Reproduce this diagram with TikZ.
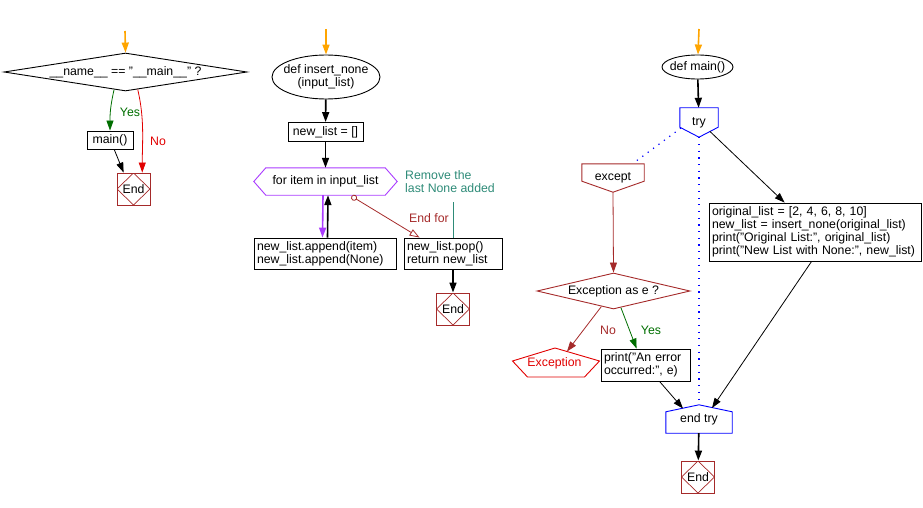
\documentclass[tikz,border=0pt]{standalone}
\usepackage{fontspec}
\setmainfont{Liberation Sans}
\usetikzlibrary{arrows.meta,calc,shapes.geometric}
\definecolor{flowred}{RGB}{165,42,42}
\definecolor{brightred}{RGB}{225,0,0}
\definecolor{flowgreen}{RGB}{0,110,0}
\definecolor{flowpurple}{RGB}{170,60,255}
\definecolor{flowblue}{RGB}{0,0,255}
\definecolor{floworange}{RGB}{255,165,0}
\definecolor{noteteal}{RGB}{46,139,120}
\def\tagdown[#1](#2)(#3){\draw[#1] (#2.north west) -- (#2.north east) -- ($(#2.south east)+(0,-#3)$) -- (#2.south) -- ($(#2.south west)+(0,-#3)$) -- cycle;}
\def\tagup[#1](#2)(#3){\draw[#1] (#2.south west) -- (#2.south east) -- ($(#2.north east)+(0,#3)$) -- (#2.north) -- ($(#2.north west)+(0,#3)$) -- cycle;}
\tikzset{
	txt/.style={font=\fontsize{12.3}{13}\selectfont, inner sep=0pt},
	box/.style={txt, draw, rectangle, line width=0.9pt, align=left},
	decision/.style={txt, draw, diamond, line width=0.9pt},
	endbox/.style={draw=flowred, rectangle, line width=0.9pt, minimum width=33pt, minimum height=32pt, txt,
		path picture={\draw[flowred, line width=0.7pt] (path picture bounding box.north) -- (path picture bounding box.east) -- (path picture bounding box.south) -- (path picture bounding box.west) -- cycle;}},
	tip/.style={-{Triangle[length=10pt,width=7pt]}},
	flowline/.style={tip, line width=1.6pt},
	thinline/.style={tip, line width=0.8pt},
	dotline/.style={flowblue, line width=1.2pt, dash pattern=on 1.2pt off 5.5pt},
	outline/.style={line width=0.9pt},
}

\begin{document}
\begin{tikzpicture}[x=1pt, y=-1pt]
	%%%%% START %%%%%
	\useasboundingbox (0,0) rectangle (923,508);
	
	% __name__ check
	\coordinate (start1) at (125,31);
	\node[decision, aspect=6.4, minimum width=243pt, minimum height=38pt] (dec1) at (125.5,72) {\_\_name\_\_ == "\_\_main\_\_" ?};
	\node[box, minimum width=46pt, minimum height=18pt] (mainc) at (110,140) {main()};
	\node[endbox] (end1) at (133.5,189) {End};
	
	\draw[flowline, floworange] (start1) -- (dec1.north);
	\draw[thinline, flowgreen] (dec1.237) .. controls +(-4,18) and +(0,-16) .. (mainc.north);
	\draw[thinline, brightred] (dec1.305) .. controls +(7,30) and +(0,-30) .. (end1.62);
	\draw[thinline] (mainc.-66) -- (end1.121);
	\node[txt, flowgreen] (yes1) at (130,112) {Yes};
	\node[txt, brightred] (no1) at (158,141) {No};
	
	% insert_none
	\coordinate (start2) at (326,29);
	\node[txt, draw, ellipse, line width=0.9pt, inner xsep=-7pt, minimum width=108pt, minimum height=44pt, align=center] (fn2) at (326,77) {def insert\_none\\(input\_list)};
	\node[box, minimum width=75pt, minimum height=19pt] (newl) at (325.5,132) {new\_list = []};
	\node[txt, minimum width=143pt, minimum height=27pt] (loop) at (325.5,181.5) {for item in input\_list};
	\draw[outline, flowpurple] (loop.west) -- ($(loop.north west)+(12,0)$) -- ($(loop.north east)+(-12,0)$) -- (loop.east) -- ($(loop.south east)+(-12,0)$) -- ($(loop.south west)+(12,0)$) -- cycle;
	\node[box, minimum width=142pt, minimum height=31pt, text width=136pt] (app) at (325,253.5) {new\_list.append(item)\\new\_list.append(None)};
	\node[box, minimum width=98pt, minimum height=31pt, text width=92pt] (pop) at (453,253.5) {new\_list.pop()\\return new\_list};
	\node[endbox] (end2) at (453,309) {End};
	\node[txt, noteteal, align=left] (note) at (450,182) {Remove the\\last None added};
	\node[txt, flowred] (endfor) at (429,218) {End for};
	
	\draw[flowline, floworange] (start2) -- (fn2);
	\draw[flowline] (fn2) -- (newl);
	\draw[flowline] (newl) -- (loop);
	\draw[flowline, flowpurple] ($(loop.south)+(-2.5,0)$) -- ($(app.north)+(-2.5,0)$);
	\draw[flowline] ($(app.north)+(2.5,0)$) -- ($(loop.south)+(2.5,0)$);
	\draw[flowred, line width=0.8pt, {Circle[open,length=6pt]}-{Triangle[open,length=10pt,width=7pt]}] ($(loop.south)+(26,1)$) -- ($(pop.north west)+(16,0)$);
	\draw[noteteal, line width=0.8pt, shorten <=9pt] (note.south -| pop.north) -- (pop.north);
	\draw[flowline] (pop) -- (end2);
	
	% main
	\coordinate (start3) at (699,29);
	\node[txt, draw, ellipse, line width=0.9pt, inner xsep=-4.5pt, minimum width=71pt, minimum height=24pt] (fn3) at (697.5,67) {def main()};
	\node[txt, minimum width=38pt, minimum height=29pt] (try) at (699,122.5) {try};
	\tagdown[outline, flowblue](try)(10)
	\node[txt, minimum width=62pt, minimum height=28pt] (except) at (613,178) {except};
	\tagdown[outline, flowred](except)(11)
	\node[box, minimum width=212pt, minimum height=58pt, text width=206pt] (big) at (815,232) {original\_list = [2, 4, 6, 8, 10]\\new\_list = insert\_none(original\_list)\\print("Original List:", original\_list)\\print("New List with None:", new\_list)};
	\node[decision, draw=flowred, aspect=4.2, minimum width=153pt, minimum height=36pt] (dec2) at (613.5,291) {Exception as e ?};
	\node[txt, brightred] (exc) at (554.5,363) {Exception};
	\coordinate (exctop) at (567,351.5);
	\draw[outline, brightred] (exc.center) ++(0.5,-15) -- ++(-42.5,13) -- ++(15,16) -- ++(57,0) -- ++(15,-16) -- cycle;
	\node[box, minimum width=89pt, minimum height=32pt, text width=83pt] (prt) at (645.5,365) {print("An error\\occurred:", e)};
	\node[txt, minimum width=66pt, minimum height=28pt] (endtry) at (699,419) {end try};
	\tagup[outline, flowblue](endtry)(7)
	\node[endbox] (end3) at (698,477) {End};
	\node[txt, flowred] (no2) at (608,330) {No};
	\node[txt, flowgreen] (yes2) at (651,330) {Yes};
	
	\draw[flowline, floworange] (start3) -- (fn3);
	\draw[flowline] (fn3) -- (try);
	\draw[dotline] ($(try.center)+(-18,5.5)$) -- ($(except.north east)+(-9,-2)$);
	\draw[thinline] ($(try.center)+(11,9)$) -- ($(big.north west)+(76,0)$);
	\draw[dotline] (try.south) -- (endtry.north);
	\draw[thinline, flowred] (except.south) -- (dec2.north);
	\draw[thinline, flowred] (dec2.232) -- (exctop);
	\draw[thinline, flowgreen] (dec2.294) -- ($(prt.north west)+(36,0)$);
	\draw[thinline] ($(prt.south west)+(59,0)$) -- ($(endtry.center)+(-16,-10.5)$);
	\draw[thinline] ($(big.south west)+(103,0)$) -- ($(endtry.center)+(13,-11)$);
	\draw[flowline] (endtry) -- (end3);
	
	%%%%% END %%%%%
\end{tikzpicture}
\end{document}
